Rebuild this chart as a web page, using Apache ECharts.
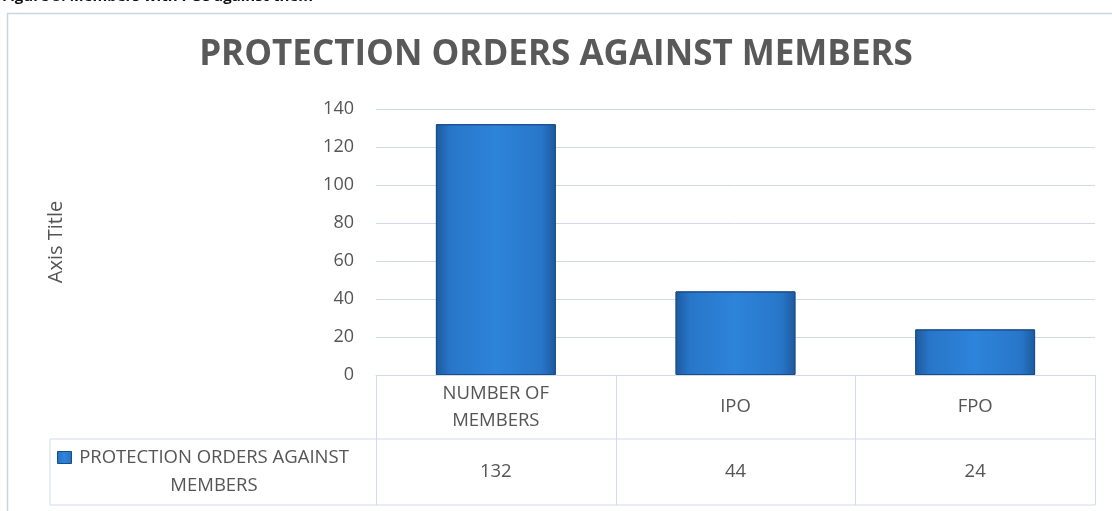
<!DOCTYPE html>
<html>
<head>
<meta charset="utf-8">
<script src="https://cdn.jsdelivr.net/npm/echarts@6/dist/echarts.min.js"></script>
<style>
  html, body { margin: 0; padding: 0; background: #fff; }
  #main { width: 1112px; height: 511px; }
</style>
</head>
<body>
<div id="main"></div>
<script>
// chart data
var categories = ['NUMBER OF\nMEMBERS', 'IPO', 'FPO'];
var values = [132, 44, 24];
var seriesName = 'PROTECTION ORDERS AGAINST\nMEMBERS';
var yTicks = [0, 20, 40, 60, 80, 100, 120, 140];

var textColor = '#555555';
var lineColor = '#d0dbe7';
var font = '"Open Sans", "Liberation Sans", sans-serif';

var barColor = new echarts.graphic.LinearGradient(0, 0, 1, 0, [
  { offset: 0, color: '#1c5a9e' },
  { offset: 0.12, color: '#2876c9' },
  { offset: 0.5, color: '#2d84da' },
  { offset: 0.88, color: '#2876c9' },
  { offset: 1, color: '#1c5a9e' }
]);

var myChart = echarts.init(document.getElementById('main'), null, { renderer: 'canvas' });

var option = {
  backgroundColor: '#fff',
  animation: false,
  title: {
    text: 'PROTECTION ORDERS AGAINST MEMBERS',
    left: 'center',
    top: 33,
    padding: [5, 0, 5, 12],
    textStyle: { color: '#595959', fontSize: 35, fontWeight: 'bold', fontFamily: font }
  },
  grid: { left: 376, right: 17, top: 109, bottom: 136 },
  xAxis: [
    {
      type: 'category',
      data: categories,
      axisLine: { lineStyle: { color: lineColor } },
      axisTick: { show: false },
      axisLabel: {
        color: textColor, fontSize: 18.5, fontFamily: font, lineHeight: 27,
        margin: 32, verticalAlign: 'middle', interval: 0
      }
    },
    {
      type: 'category',
      position: 'bottom',
      data: values.map(function (v) { return String(v); }),
      axisLine: { show: false },
      axisTick: { show: false },
      axisLabel: {
        color: textColor, fontSize: 18.5, fontFamily: font,
        margin: 97, verticalAlign: 'middle', interval: 0
      }
    }
  ],
  yAxis: {
    type: 'value',
    min: yTicks[0],
    max: yTicks[yTicks.length - 1],
    interval: 20,
    name: 'Axis Title',
    nameLocation: 'middle',
    nameGap: 310,
    nameRotate: 90,
    nameTextStyle: { color: textColor, fontSize: 20, fontFamily: font },
    axisLine: { show: false },
    axisTick: { show: false },
    axisLabel: { color: textColor, fontSize: 18, fontFamily: font, margin: 22 },
    splitLine: { lineStyle: { color: lineColor, width: 1 } }
  },
  series: [
    {
      name: seriesName,
      type: 'bar',
      data: values,
      barWidth: '50%',
      itemStyle: { color: barColor, borderColor: '#1a4d88', borderWidth: 1 }
    }
  ]
};

myChart.setOption(option);

// data table lines + legend key, placed from the axis scale
function drawTable() {
  var y0 = myChart.convertToPixel({ yAxisIndex: 0 }, 0);
  var c0 = myChart.convertToPixel({ xAxisIndex: 0 }, 0);
  var c1 = myChart.convertToPixel({ xAxisIndex: 0 }, 1);
  var band = c1 - c0;
  var left = c0 - band / 2;
  var right = left + band * categories.length;
  var row1 = 64, row2 = 66;
  var headLeft = 50;
  var els = [];
  var ls = { stroke: lineColor, lineWidth: 1 };

  // outer chart frame
  els.push({ type: 'rect', shape: { x: 7.5, y: 13.5, width: 1200, height: 600 },
    style: { fill: null, stroke: '#c8d5e2', lineWidth: 1.5 }, silent: true });
  // caption above the chart, cut off by the page top
  els.push({ type: 'text', left: 2, top: -11,
    style: { text: 'Figure 5: Members with POs against them', fill: '#111',
      font: 'bold 15px ' + font } });

  // horizontal lines
  els.push({ type: 'line', shape: { x1: headLeft, y1: y0 + row1, x2: right, y2: y0 + row1 }, style: ls });
  els.push({ type: 'line', shape: { x1: headLeft, y1: y0 + row1 + row2, x2: right, y2: y0 + row1 + row2 }, style: ls });
  // vertical lines
  els.push({ type: 'line', shape: { x1: headLeft, y1: y0 + row1, x2: headLeft, y2: y0 + row1 + row2 }, style: ls });
  for (var i = 0; i <= categories.length; i++) {
    var x = Math.round(left + band * i) + 0.5;
    els.push({ type: 'line', shape: { x1: x, y1: y0, x2: x, y2: y0 + row1 + row2 }, style: ls });
  }

  // legend key in the row header
  var midY = y0 + row1 + row2 / 2;
  els.push({ type: 'text', x: 214, y: midY,
    style: { text: seriesName, fill: textColor, font: '18.5px ' + font,
      align: 'center', verticalAlign: 'middle', lineHeight: 28 } });
  els.push({ type: 'rect', shape: { x: 57.5, y: midY - 20.5, width: 14, height: 12 },
    style: { fill: barColor, stroke: '#1a4d88', lineWidth: 1 } });

  myChart.setOption({ graphic: els });
}
drawTable();
</script>
</body>
</html>
